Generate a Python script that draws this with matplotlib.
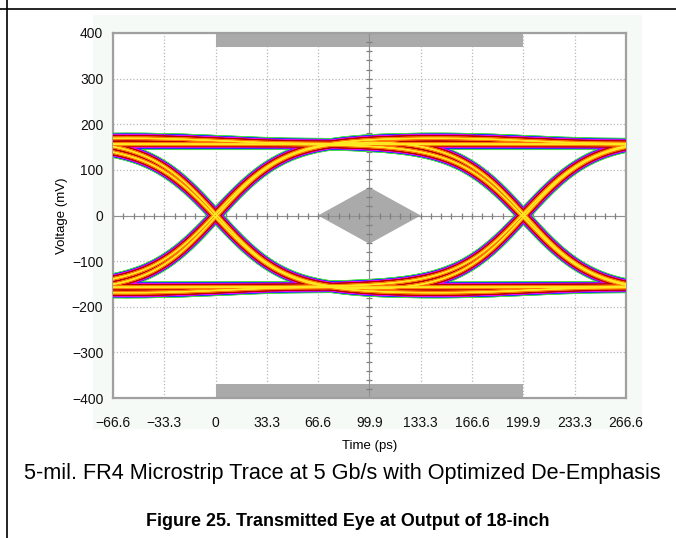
import itertools
import numpy as np
import matplotlib
matplotlib.use("Agg")
from matplotlib import pyplot as plt
from matplotlib.patches import Rectangle, Polygon

plt.rcParams['font.family'] = ['Liberation Sans', 'DejaVu Sans']

# axis ticks
x_ticks = [-66.6, -33.3, 0, 33.3, 66.6, 99.9, 133.3, 166.6, 199.9, 233.3, 266.6]
x_labels = ['\u221266.6', '\u221233.3', '0', '33.3', '66.6', '99.9', '133.3',
            '166.6', '199.9', '233.3', '266.6']
y_ticks = [-400, -300, -200, -100, 0, 100, 200, 300, 400]

# eye mask (mV / ps)
mask_x = [66.6, 99.9, 133.3, 99.9]
mask_y = [0, 62, 0, -62]
band_x = [0, 199.9]
band_y = [370, 400]

# signal
crossings = [-400, -200, 0, 199.9, 400]
edge_skew = 1.0         # ps, centres the crossing on the tick
steady_mv = 157         # repeated bits (de-emphasised)
trans_mv = 172          # transition bits
fast_tau, slow_tau = 44.0, 90.0
fast_w, slow_w = 0.92, 0.08


def step(t):
    return 0.5 + 0.5 * (fast_w * np.tanh(t / fast_tau) + slow_w * np.tanh(t / slow_tau))


def waveform(bits, t):
    levels = []
    prev = bits[0]
    for b in bits:
        amp = steady_mv if b == prev else trans_mv
        levels.append(amp if b else -amp)
        prev = b
    v = np.full_like(t, float(levels[0]))
    for k, tc in enumerate(crossings):
        v += (levels[k + 1] - levels[k]) * step(t - tc - edge_skew)
    return v


t = np.linspace(-70, 270, 700)
traces = []
for pat in itertools.product([0, 1], repeat=5):
    bits = (pat[0],) + pat
    traces.append(waveform(bits, t))

fig = plt.figure(figsize=(6.76, 5.38), dpi=100)

# page frame
fig.add_artist(plt.Line2D([0, 1], [1 - 9 / 538, 1 - 9 / 538], color='black', lw=1.2))
fig.add_artist(plt.Line2D([7 / 676, 7 / 676], [0, 1], color='black', lw=1.2))
fig.add_artist(Rectangle((93 / 676, 1 - 428 / 538), 548 / 676, 413 / 538,
                         transform=fig.transFigure, color='#f5faf6', zorder=-5))

ax = fig.add_axes([113 / 676, 1 - 398 / 538, 513 / 676, 365 / 538])
ax.set_facecolor('white')
ax.set_xlim(-66.6, 266.6)
ax.set_ylim(-400, 400)
ax.set_xticks(x_ticks)
ax.set_xticklabels(x_labels)
ax.set_yticks(y_ticks)
ax.tick_params(length=0, labelsize=10, colors='#111111')
ax.tick_params(axis='x', pad=13)
ax.tick_params(axis='y', pad=7)
ax.grid(True, color='#b8b8b8', ls=':', lw=0.9)
ax.set_axisbelow(True)
for s in ax.spines.values():
    s.set_color('#a0a0a0')
    s.set_linewidth(1.6)

# mask
ax.add_patch(Rectangle((band_x[0], band_y[0]), band_x[1] - band_x[0], band_y[1] - band_y[0],
                       color='#aaaaaa', lw=0, zorder=1))
ax.add_patch(Rectangle((band_x[0], -band_y[1]), band_x[1] - band_x[0], band_y[1] - band_y[0],
                       color='#aaaaaa', lw=0, zorder=1))
ax.add_patch(Polygon(list(zip(mask_x, mask_y)), closed=True, color='#aaaaaa', lw=0, zorder=1))

# centre cross with minor ticks
ax.axhline(0, color='#909090', lw=0.8, zorder=1.5)
ax.axvline(99.9, color='#909090', lw=0.8, zorder=1.5)
hx = np.arange(-66.6, 266.7, 33.3 / 5)
ax.plot(hx, np.zeros_like(hx), ls='none', marker='|', ms=4, mew=0.9, color='#808080', zorder=1.6)
vy = np.arange(-400, 401, 20)
ax.plot(np.full_like(vy, 99.9, dtype=float), vy, ls='none', marker='_', ms=4, mew=0.9,
        color='#808080', zorder=1.6)

# colour graded persistence
layers = [('#44dd44', 8.0), ('#2233ff', 6.6), ('#ee00ee', 5.6),
          ('#b80000', 4.4), ('#ff7a00', 2.5), ('#ffe822', 0.8)]
for i, (c, lw) in enumerate(layers):
    for v in traces:
        ax.plot(t, v, color=c, lw=lw, solid_capstyle='butt', zorder=3 + i)

ax.set_xlabel('Time (ps)', fontsize=9.5, labelpad=7)
ax.set_ylabel('Voltage (mV)', fontsize=9.5, labelpad=3)

fig.text(342 / 676, 1 - 473 / 538, '5-mil. FR4 Microstrip Trace at 5 Gb/s with Optimized De-Emphasis',
         ha='center', va='center', fontsize=15.6)
fig.text(348 / 676, 1 - 521 / 538, 'Figure 25. Transmitted Eye at Output of 18-inch',
         ha='center', va='center', fontsize=12.9, fontweight='bold')

fig.savefig('out.png', dpi=100)
